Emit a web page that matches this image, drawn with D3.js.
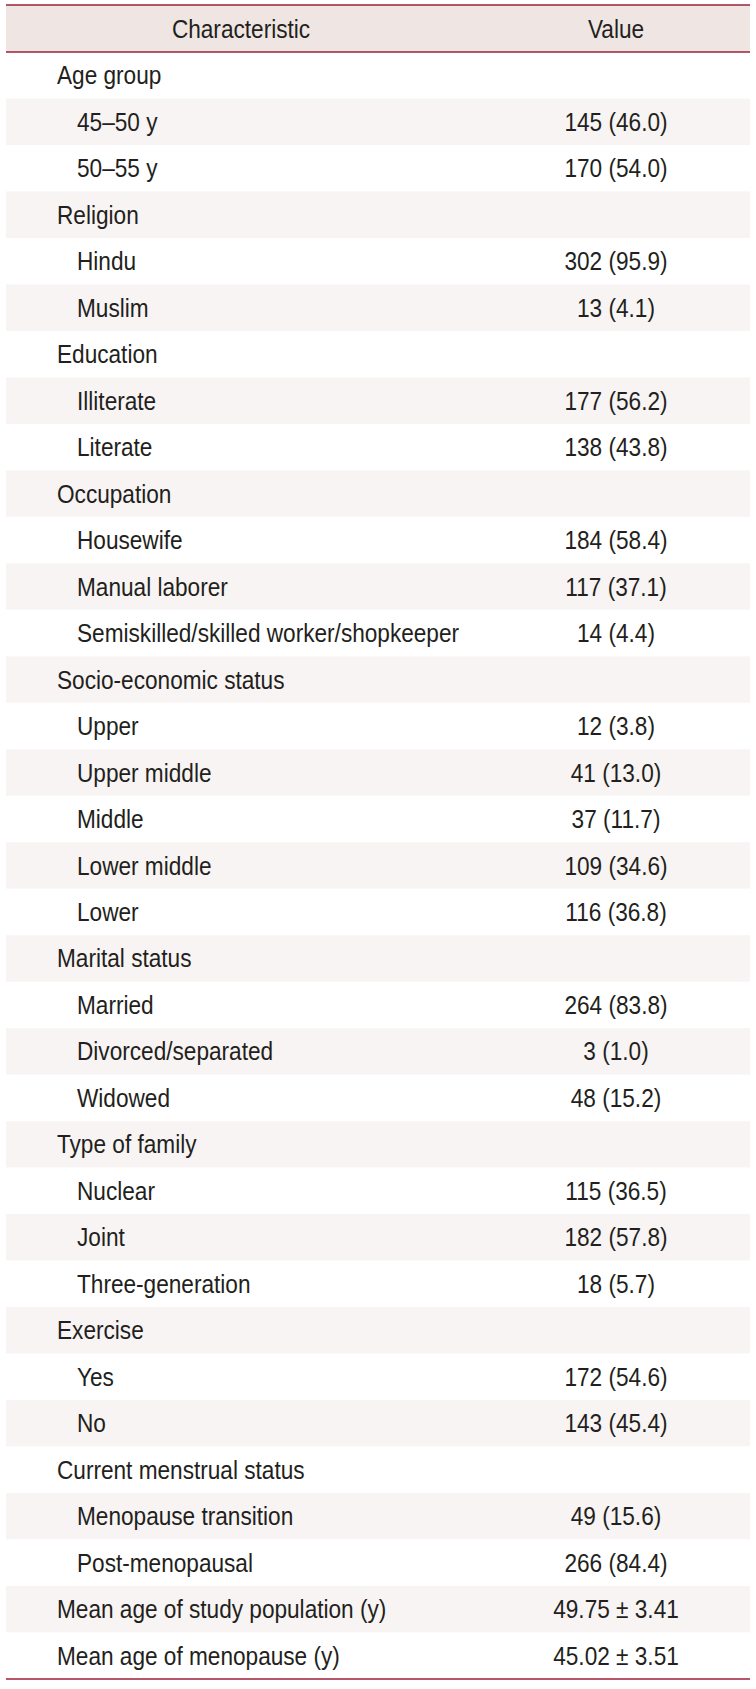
<!DOCTYPE html>
<html><head><meta charset="utf-8">
<script src="https://cdn.jsdelivr.net/npm/d3@7/dist/d3.min.js"></script>
<style>body{margin:0;background:#fff}svg{display:block}</style>
</head><body>
<script>
const headers = ["Characteristic", "Value"];
const labels = ["Age group","45–50 y","50–55 y","Religion","Hindu","Muslim","Education","Illiterate","Literate","Occupation","Housewife","Manual laborer","Semiskilled/skilled worker/shopkeeper","Socio-economic status","Upper","Upper middle","Middle","Lower middle","Lower","Marital status","Married","Divorced/separated","Widowed","Type of family","Nuclear","Joint","Three-generation","Exercise","Yes","No","Current menstrual status","Menopause transition","Post-menopausal","Mean age of study population (y)","Mean age of menopause (y)"];
const values = ["","145 (46.0)","170 (54.0)","","302 (95.9)","13 (4.1)","","177 (56.2)","138 (43.8)","","184 (58.4)","117 (37.1)","14 (4.4)","","12 (3.8)","41 (13.0)","37 (11.7)","109 (34.6)","116 (36.8)","","264 (83.8)","3 (1.0)","48 (15.2)","","115 (36.5)","182 (57.8)","18 (5.7)","","172 (54.6)","143 (45.4)","","49 (15.6)","266 (84.4)","49.75 ± 3.41","45.02 ± 3.51"];
const levels = [0,1,1,0,1,1,0,1,1,0,1,1,1,0,1,1,1,1,1,0,1,1,1,0,1,1,1,0,1,1,0,1,1,0,0];

(function(){
const W = 756, H = 1689;
const xL = 6, xR = 750, yTop = 5, yHead = 52, yBot = 1679;
const font = "'Liberation Sans',Arial,sans-serif";
const fs = 25, sx = 0.905;
const textColor = "#231f20";
const lineColor = "#9e1f38";

const svg = d3.select("body").append("svg").attr("width", W).attr("height", H);
const y = d3.scaleBand().domain(d3.range(labels.length)).range([yHead, yBot]);

svg.append("rect").attr("x", xL).attr("y", yTop).attr("width", xR-xL).attr("height", yHead-yTop).attr("fill", "#efe6e3");

svg.selectAll("rect.row").data(labels).join("rect").attr("class","row")
  .attr("x", xL).attr("width", xR-xL)
  .attr("y", (d,i)=>y(i)).attr("height", y.bandwidth())
  .attr("fill", (d,i)=> i%2===1 ? "#f8f4f3" : "#ffffff");

function put(sel, xf, yf){
  sel.attr("transform",(d,i)=>`translate(${xf(d,i)},${yf(d,i)}) scale(${sx},1)`)
    .attr("dy","0.36em").attr("font-family",font).attr("font-size",fs).attr("fill",textColor).text(d=>d);
}
const colX = [241, 616];
put(svg.selectAll("text.head").data(headers).join("text").attr("class","head").attr("text-anchor","middle"),
  (d,i)=>colX[i], ()=>(yTop+yHead)/2);
put(svg.selectAll("text.lab").data(labels).join("text").attr("class","lab"),
  (d,i)=> levels[i]===0 ? 57 : 77, (d,i)=>y(i)+y.bandwidth()/2);
put(svg.selectAll("text.val").data(values).join("text").attr("class","val").attr("text-anchor","middle"),
  ()=>colX[1], (d,i)=>y(i)+y.bandwidth()/2);

[yTop, yHead, yBot].forEach(v=>{
  svg.append("line").attr("x1",xL).attr("x2",xR).attr("y1",v).attr("y2",v)
    .attr("stroke",lineColor).attr("stroke-width",1.6);
});
})();
</script>
</body></html>
